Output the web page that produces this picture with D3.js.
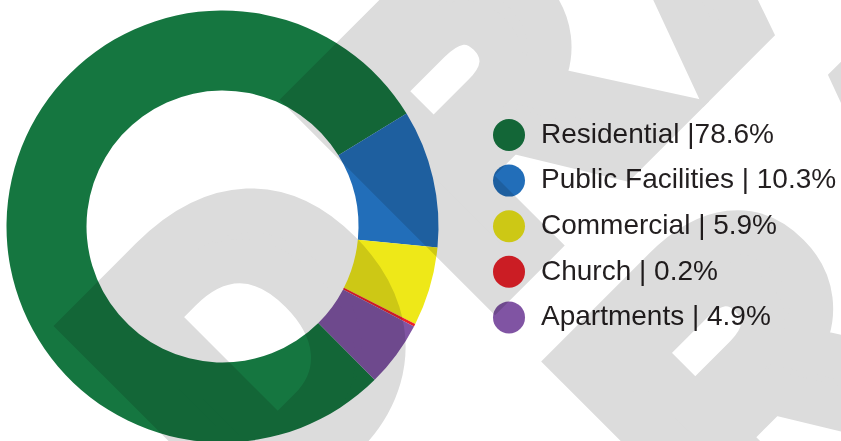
<!DOCTYPE html>
<html>
<head>
<meta charset="utf-8">
<script src="https://cdn.jsdelivr.net/npm/d3@7"></script>
<style>
  html, body { margin: 0; padding: 0; background: #ffffff; }
  svg { display: block; }
</style>
</head>
<body>
<script>
// Land use shares (percent of total area)
const categories = ["Residential", "Public Facilities", "Commercial", "Church", "Apartments"];
const shares = [78.6, 10.3, 5.9, 0.2, 4.9];
const separators = [" |", " | ", " | ", " | ", " | "];
const colors = ["#157640", "#226eb9", "#eee818", "#ec2129", "#8054a3"];
const watermarkRows = ["DRAFT", "DRAFT"];

const width = 841, height = 441;
const cx = 222.5, cy = 226.5;
const outerR = 216, innerR = 136;
const startDeg = 135.2;

const svg = d3.select("body").append("svg")
  .attr("width", width)
  .attr("height", height);

svg.append("rect").attr("width", width).attr("height", height).attr("fill", "#ffffff");

const data = categories.map((c, i) => ({ name: c, value: shares[i], color: colors[i], sep: separators[i] }));

// Donut ring
const pie = d3.pie()
  .sort(null)
  .value(d => d.value)
  .startAngle(startDeg * Math.PI / 180)
  .endAngle(startDeg * Math.PI / 180 + 2 * Math.PI);

const arc = d3.arc().innerRadius(innerR).outerRadius(outerR);

svg.append("g")
  .attr("transform", `translate(${cx},${cy})`)
  .selectAll("path")
  .data(pie(data))
  .join("path")
  .attr("d", arc)
  .attr("fill", d => d.data.color);

// Legend
const legendY = d3.scaleLinear().domain([0, 1]).range([142.7, 188.3]);
const legend = svg.append("g");
const items = legend.selectAll("g")
  .data(data)
  .join("g")
  .attr("transform", (d, i) => `translate(0,${legendY(i)})`);

items.append("circle")
  .attr("cx", 509)
  .attr("cy", -7.7)
  .attr("r", 16)
  .attr("fill", d => d.color);

items.append("text")
  .attr("x", 541)
  .attr("y", 0)
  .attr("font-family", "'Liberation Sans', Arial, sans-serif")
  .attr("font-size", 28)
  .attr("fill", "#231f20")
  .text(d => `${d.name}${d.sep}${d3.format(".1f")(d.value)}%`);

// Diagonal watermark laid over everything
const mark = svg.append("g")
  .attr("transform", "rotate(-45)")
  .style("mix-blend-mode", "multiply");

mark.selectAll("text")
  .data(watermarkRows)
  .join("text")
  .attr("x", -196)
  .attr("y", (d, i) => 551 + i * 370)
  .attr("font-family", "'Liberation Sans', Arial, sans-serif")
  .attr("font-weight", "bold")
  .attr("font-size", 379)
  .attr("letter-spacing", 46)
  .attr("fill", "#dcdcdc")
  .attr("stroke", "#dcdcdc")
  .attr("stroke-width", 44)
  .attr("stroke-linejoin", "miter")
  .text(d => d);
</script>
</body>
</html>
